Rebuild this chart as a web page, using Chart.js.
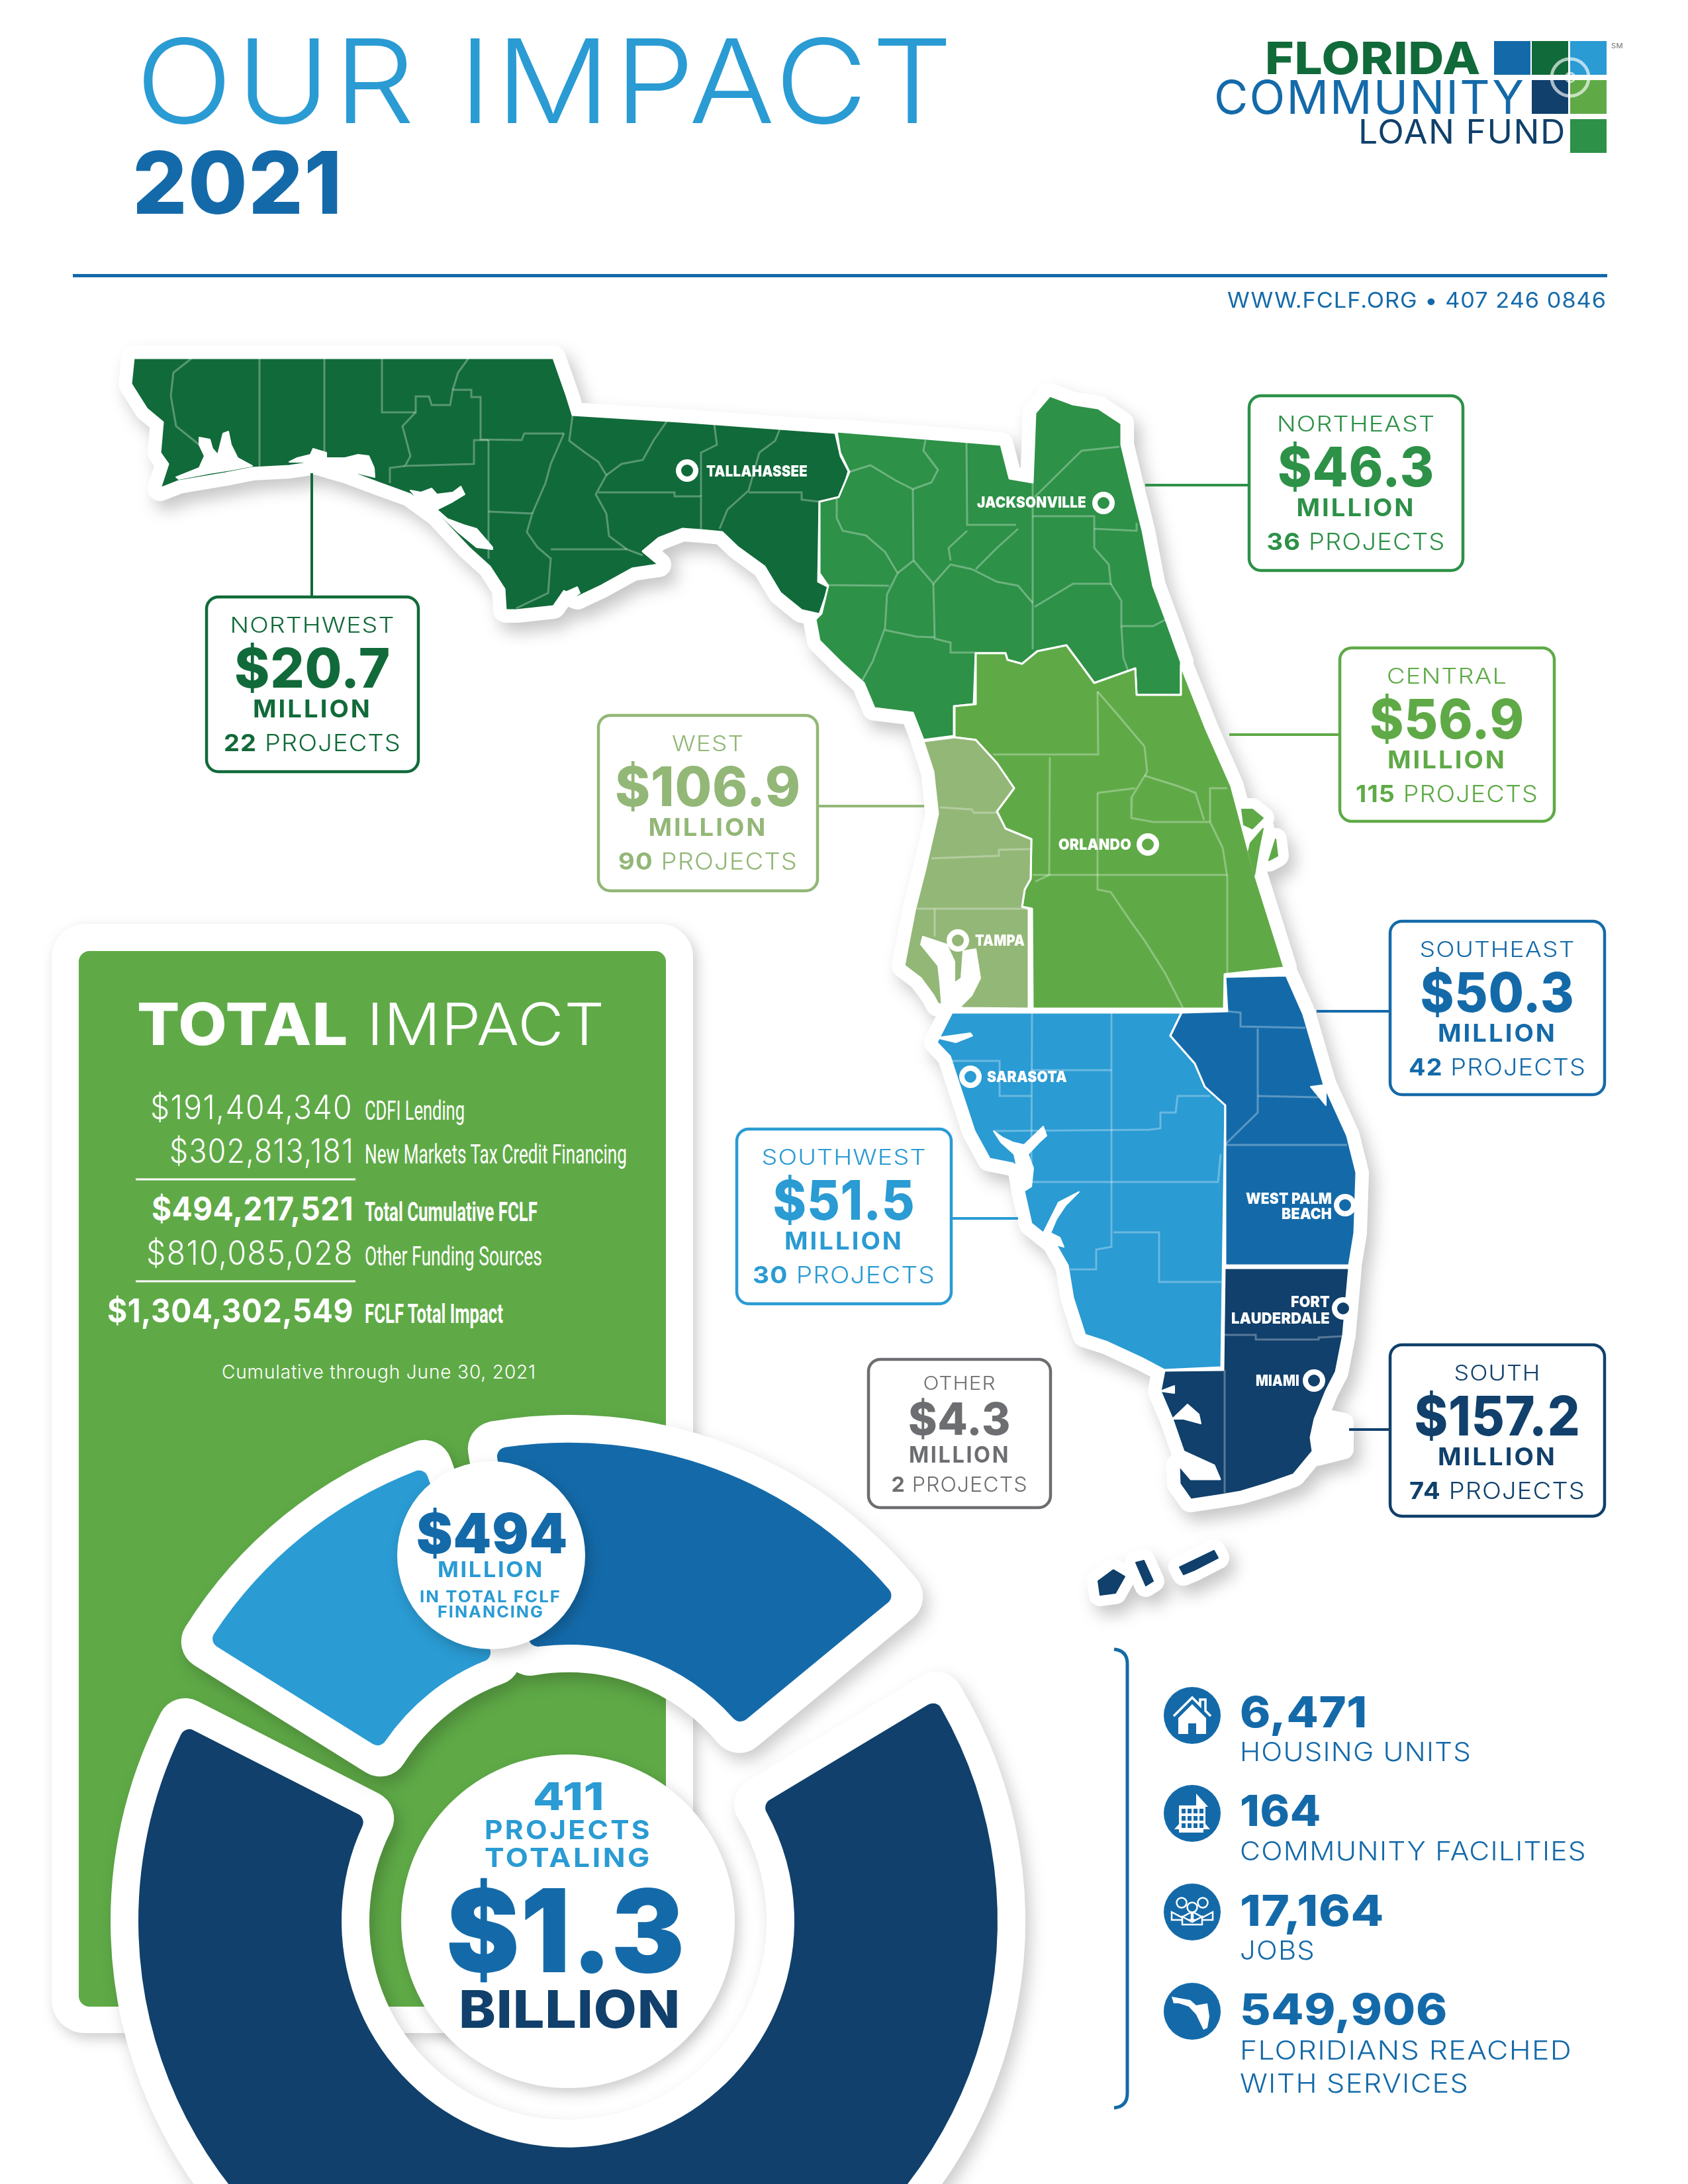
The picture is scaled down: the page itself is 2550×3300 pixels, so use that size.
<!DOCTYPE html>
<html>
<head>
<meta charset="utf-8">
<title>Our Impact 2021</title>
<script src="https://cdn.jsdelivr.net/npm/chart.js@4"></script>
<style>
html, body { margin: 0; padding: 0; background: #fff; }
#page { position: relative; width: 2550px; height: 3300px; overflow: hidden; background: #fff; }
#page canvas, #page svg { position: absolute; left: 0; top: 0; }
#mapChart { filter: drop-shadow(10px 14px 12px rgba(0,0,0,.22)); }
.stickerRing { filter: drop-shadow(8px 12px 12px rgba(0,0,0,.2)); }
.soft { filter: drop-shadow(6px 8px 10px rgba(0,0,0,.2)); }
</style>
</head>
<body>
<div id="page">
  <svg id="backLayer" width="2550" height="3300"></svg>
  <canvas id="mapChart" width="2550" height="3300"></canvas>
  <canvas id="otherSticker" class="stickerRing" width="1800" height="1800"></canvas>
  <canvas id="otherRing" width="1800" height="1800"></canvas>
  <canvas id="fclfSticker" class="stickerRing" width="1800" height="1800"></canvas>
  <canvas id="fclfRing" width="1800" height="1800"></canvas>
  <svg id="frontLayer" width="2550" height="3300"></svg>
</div>
<script>
// regional table
const regionNames = ['NORTHWEST', 'NORTHEAST', 'CENTRAL', 'WEST', 'SOUTHWEST', 'SOUTHEAST', 'SOUTH', 'OTHER'];
const regionMillions = [20.7, 46.3, 56.9, 106.9, 51.5, 50.3, 157.2, 4.3];
const regionProjects = [22, 36, 115, 90, 30, 42, 74, 2];

// total impact table, in dollars
const fundingNames = ['CDFI Lending', 'New Markets Tax Credit Financing', 'Total Cumulative FCLF', 'Other Funding Sources', 'FCLF Total Impact'];
const fundingAmounts = [191404340, 302813181, 494217521, 810085028, 1304302549];

const statValues = ['6,471', '164', '17,164', '549,906'];

// map outlines (x, y on the map scales)
const outlineNorthwest = [[202,541],[836,541],[856,598],[865,627],[1027,637],[1262,654],[1270,689],[1282,712],[1270,753],[1238,758],[1236,879],[1252,887],[1238,928],[1211,922],[1179,896],[1155,856],[1115,827],[1091,804],[1059,801],[1031,799],[995,813],[971,833],[995,853],[955,859],[908,885],[872,902],[852,893],[836,916],[780,922],[764,922],[762,890],[740,856],[708,827],[660,776],[620,747],[573,730],[525,712],[477,698],[437,704],[381,707],[341,715],[270,727],[242,738],[254,701],[242,684],[246,638],[222,618],[198,580]];
const outlineNortheast = [[1264,652],[1512,672],[1525,723],[1560,729],[1564,624],[1586,598],[1621,611],[1659,617],[1694,640],[1694,672],[1707,726],[1726,802],[1742,885],[1761,936],[1784,1000],[1784,1050],[1717,1050],[1715,1010],[1653,1032],[1634,1006],[1611,975],[1567,984],[1544,1003],[1522,997],[1519,987],[1474,987],[1471,1064],[1442,1067],[1441,1112],[1395,1118],[1379,1077],[1321,1070],[1305,1032],[1270,1000],[1238,968],[1232,936],[1241,927],[1251,885],[1238,866],[1238,758],[1267,751],[1283,713],[1269,684]];
const outlineCentral = [[1474,987],[1519,987],[1522,997],[1544,1003],[1567,984],[1611,975],[1634,1006],[1653,1032],[1715,1010],[1717,1050],[1784,1050],[1784,1006],[1822,1102],[1860,1188],[1895,1319],[1940,1462],[1850,1472],[1849,1524],[1560,1524],[1559,1373],[1544,1370],[1548,1344],[1557,1328],[1558,1268],[1519,1252],[1506,1226],[1532,1191],[1506,1153],[1474,1118],[1442,1114],[1442,1067],[1474,1064]];
const outlineWest = [[1395,1120],[1442,1114],[1474,1118],[1506,1153],[1532,1191],[1506,1226],[1519,1252],[1558,1268],[1557,1328],[1548,1344],[1544,1370],[1554,1373],[1554,1524],[1455,1523],[1417,1517],[1410,1504],[1391,1478],[1366,1459],[1382,1376],[1398,1313],[1417,1230],[1410,1166]];
const outlineSouthwest = [[1438,1530],[1785,1530],[1768,1565],[1805,1607],[1820,1642],[1851,1670],[1845,2066],[1759,2070],[1725,2052],[1673,2028],[1639,2017],[1621,1961],[1613,1912],[1593,1877],[1558,1849],[1547,1800],[1541,1765],[1530,1758],[1495,1751],[1472,1709],[1449,1639],[1435,1596],[1415,1575]];
const outlineSoutheast = [[1851,1476],[1943,1474],[1969,1533],[2000,1639],[2035,1716],[2049,1772],[2046,1863],[2038,1912],[1850,1912],[1851,1670],[1820,1642],[1805,1607],[1768,1565],[1785,1530],[1854,1528]];
const outlineSouth = [[1850,1916],[2038,1916],[2029,2017],[2018,2073],[2003,2102],[1986,2144],[1980,2172],[1983,2193],[1954,2228],[1914,2242],[1874,2254],[1845,2259],[1799,2266],[1782,2242],[1781,2214],[1799,2235],[1843,2235],[1834,2214],[1788,2193],[1771,2144],[1753,2102],[1759,2071],[1848,2070]];
const keysSouth = [
  [[1659,2389],[1682,2372],[1699,2382],[1685,2407],[1662,2410]],
  [[1716,2361],[1728,2358],[1742,2389],[1731,2396]],
  [[1782,2368],[1834,2343],[1840,2354],[1805,2372],[1788,2379]]
];
const islandsCentral = [
  [[1876,1223],[1892,1223],[1908,1236],[1892,1252],[1879,1246]],
  [[1889,1274],[1908,1252],[1902,1281],[1895,1322],[1886,1287]],
  [[1927,1268],[1930,1293],[1917,1300]]
];
const bays = [
  [[301,661],[317,664],[321,678],[329,687],[337,655],[345,652],[349,672],[359,692],[381,704],[349,710],[317,715],[270,724],[266,721],[301,707],[309,689],[301,672]],
  [[437,698],[449,692],[469,687],[473,678],[493,684],[493,692],[521,692],[541,687],[557,689],[565,707],[566,721],[541,715],[517,717],[501,707],[477,698]],
  [[620,741],[636,744],[652,738],[660,747],[684,744],[696,735],[702,747],[684,758],[660,770],[676,784],[700,793],[720,799],[744,827],[744,830],[720,827],[692,804],[668,781],[648,767],[632,755]],
  [[852,896],[872,887],[876,896],[856,910],[840,916]],
  [[1394,1415],[1430,1427],[1442,1453],[1442,1485],[1452,1478],[1455,1437],[1474,1434],[1481,1478],[1468,1504],[1449,1523],[1423,1523],[1420,1485],[1417,1459],[1391,1427]],
  [[1415,1568],[1466,1561],[1469,1565],[1444,1575]],
  [[1501,1709],[1515,1719],[1530,1726],[1547,1730],[1576,1702],[1581,1716],[1570,1726],[1553,1744],[1561,1765],[1558,1793],[1547,1800],[1538,1772],[1532,1744],[1512,1726]],
  [[1576,1863],[1590,1835],[1599,1817],[1630,1801],[1610,1821],[1596,1842],[1587,1863],[1601,1870],[1607,1884],[1581,1877]],
  [[1980,1642],[2003,1639],[2003,1670]],
  [[1753,2102],[1774,2094],[1774,2105]],
  [[1771,2144],[1794,2122],[1811,2137],[1814,2151],[1788,2144]]
];
const biscayneBlob = [[1983,2140],[2030,2150],[2030,2190],[1990,2200]];
const countyLines = [
  [[290,541],[262,563],[258,598],[266,644],[301,672]],
  [[392,541],[392,707]],
  [[490,541],[490,692]],
  [[577,541],[577,623],[628,623],[628,599],[648,599],[652,612],[680,612],[684,589],[712,589],[712,600],[726,600],[726,664],[788,665],[792,655],[852,655]],
  [[708,541],[692,563],[684,589]],
  [[628,623],[608,644],[620,689],[612,704],[716,701],[716,665],[738,665]],
  [[738,665],[738,844]],
  [[612,704],[589,707],[589,730]],
  [[738,773],[804,776],[796,804],[812,827],[832,844],[828,896],[780,919]],
  [[832,830],[947,830],[971,839]],
  [[852,655],[832,701],[824,730],[804,776]],
  [[865,627],[860,666],[884,684],[904,698],[916,718],[900,747],[916,776],[920,810],[947,830]],
  [[916,718],[939,701],[971,695],[987,666],[1007,637]],
  [[904,744],[1019,744],[1019,750],[1059,750],[1059,799]],
  [[1059,750],[1059,684],[1083,672],[1079,641]],
  [[1179,646],[1171,666],[1147,684],[1131,741],[1099,770],[1087,799]],
  [[1131,744],[1211,744],[1211,755],[1238,758]],
  [[1264,751],[1264,783],[1273,802],[1308,809],[1337,834],[1356,866],[1340,898],[1337,949],[1318,1000],[1302,1029]],
  [[1283,713],[1315,703],[1353,726],[1379,739],[1407,729],[1417,710],[1395,681],[1398,665]],
  [[1379,739],[1380,847],[1356,866]],
  [[1460,665],[1461,793],[1535,793]],
  [[1380,847],[1410,882],[1436,853],[1468,860],[1506,879],[1538,885],[1560,911]],
  [[1245,884],[1343,885]],
  [[1461,802],[1433,828],[1436,847]],
  [[1538,799],[1506,828],[1474,860]],
  [[1410,882],[1412,965],[1436,971],[1436,986],[1474,986]],
  [[1337,952],[1385,962],[1412,963]],
  [[1560,729],[1560,981]],
  [[1563,751],[1634,681],[1691,675]],
  [[1560,780],[1653,780],[1653,828],[1675,853],[1678,882],[1621,882],[1563,917]],
  [[1653,799],[1717,802],[1717,790]],
  [[1678,882],[1694,908],[1694,946],[1742,946],[1761,936]],
  [[1694,946],[1697,994],[1704,1013]],
  [[1658,1045],[1659,1140],[1500,1140]],
  [[1586,1144],[1585,1322],[1564,1332]],
  [[1658,1045],[1691,1083],[1729,1128],[1733,1166],[1710,1204],[1709,1236],[1742,1242],[1828,1242],[1847,1281],[1854,1325],[1854,1472]],
  [[1729,1172],[1780,1188],[1806,1198],[1819,1239]],
  [[1828,1242],[1828,1191],[1854,1191]],
  [[1658,1198],[1715,1191]],
  [[1658,1198],[1658,1344],[1678,1348],[1710,1395],[1729,1421],[1761,1472],[1787,1523]],
  [[1560,1322],[1854,1322]],
  [[1420,1220],[1468,1223],[1471,1228],[1506,1228]],
  [[1407,1297],[1509,1293],[1509,1284],[1556,1283]],
  [[1385,1373],[1554,1373]],
  [[1412,1373],[1412,1415]],
  [[1559,1530],[1558,1782]],
  [[1679,1530],[1679,1884],[1656,1888],[1656,1918],[1616,1918]],
  [[1435,1603],[1510,1603],[1510,1656],[1558,1656]],
  [[1558,1617],[1679,1617]],
  [[1501,1709],[1736,1707],[1753,1705],[1753,1681],[1776,1681],[1779,1656],[1828,1656]],
  [[1555,1786],[1840,1786],[1844,1744]],
  [[1682,1862],[1751,1862],[1751,1937],[1845,1937]],
  [[1854,1528],[1874,1530],[1874,1551],[1972,1553]],
  [[1900,1554],[1900,1681],[1850,1730]],
  [[1900,1656],[1992,1658]],
  [[1850,1730],[2035,1730]],
  [[1850,2017],[1897,2017],[1897,2024],[1992,2024],[1992,2021],[2029,2019]],
  [[1850,2070],[1850,2256]]
];
const cityNames = ['Tallahassee', 'Jacksonville', 'Orlando', 'Tampa', 'Sarasota', 'West Palm Beach', 'Fort Lauderdale', 'Miami'];
const cityPoints = [[1038,711],[1667,760],[1734,1276],[1447,1421],[1466,1627],[2032,1821],[2029,1977],[1985,2086]];

const NAVY = '#10406b', BLUE = '#146aa9', SKY = '#2a9bd3', FOREST = '#116a39', GREEN = '#2d9147', LEAF = '#5faa47', SAGE = '#93b777', GRAY = '#6d6e71';
const regionColors = [FOREST, GREEN, LEAF, SAGE, SKY, BLUE, NAVY, GRAY];
const cityColors = [FOREST, GREEN, LEAF, SAGE, SKY, BLUE, NAVY, NAVY];
const FONT = 'Inter, "Noto Sans", sans-serif';
const NARROW = '"Liberation Sans Narrow", Roboto, sans-serif';

Chart.defaults.animation = false;
Chart.defaults.devicePixelRatio = 1;
Chart.defaults.responsive = false;
Chart.defaults.plugins.legend.display = false;
Chart.defaults.plugins.tooltip.enabled = false;

function toXY(points, close) {
    const list = points.map(function (p) { return { x: p[0], y: p[1] }; });
    if (close) list.push(list[0]);
    return list;
}

function shape(points, fillColor, lineColor, lineWidth) {
    return {
        data: toXY(points, true), showLine: true, fill: 'shape', backgroundColor: fillColor,
        borderColor: lineColor, borderWidth: lineWidth, pointRadius: 0, tension: 0,
        borderJoinStyle: 'round', borderCapStyle: 'round', clip: false
    };
}

const landShapes = [
    [outlineNorthwest, FOREST], [outlineNortheast, GREEN], [outlineCentral, LEAF], [outlineWest, SAGE],
    [outlineSouthwest, SKY], [outlineSoutheast, BLUE], [outlineSouth, NAVY]
];
const mapDatasets = [];
// white sticker under the land first
landShapes.forEach(function (s) { mapDatasets.push(shape(s[0], '#fff', '#fff', 38)); });
keysSouth.concat(islandsCentral).forEach(function (k) { mapDatasets.push(shape(k, '#fff', '#fff', 34)); });
mapDatasets.push(shape(biscayneBlob, '#fff', '#fff', 30));
landShapes.forEach(function (s) { mapDatasets.push(shape(s[0], s[1], '#fff', 3)); });
keysSouth.forEach(function (k) { mapDatasets.push(shape(k, NAVY, NAVY, 2)); });
islandsCentral.forEach(function (k) { mapDatasets.push(shape(k, LEAF, LEAF, 2)); });
countyLines.forEach(function (l) {
    mapDatasets.push({
        data: toXY(l, false), showLine: true, fill: false, borderColor: 'rgba(255,255,255,.3)',
        borderWidth: 3, pointRadius: 0, tension: 0, clip: false
    });
});
bays.forEach(function (b) { mapDatasets.push(shape(b, '#fff', '#fff', 2)); });
mapDatasets.push({
    label: 'Cities', data: toXY(cityPoints, false), showLine: false, pointStyle: 'circle', pointRadius: 13,
    pointBackgroundColor: cityColors, pointBorderColor: '#fff', pointBorderWidth: 8, clip: false
});
// later entries go on top
mapDatasets.forEach(function (d, i) { d.order = mapDatasets.length - i; });

new Chart(document.getElementById('mapChart'), {
    type: 'scatter',
    data: { datasets: mapDatasets },
    options: {
        layout: { padding: 0, autoPadding: false },
        scales: {
            x: { type: 'linear', min: 0, max: 2550, display: false },
            y: { type: 'linear', min: 0, max: 3300, reverse: true, display: false }
        }
    }
});

// the slices do not fill a circle, so move the canvas until the ring's hub sits where it should
function ringChart(id, values, rotation, sweep, radius, cutout, colors, borderColors, borderWidth, corner, hubX, hubY) {
    const canvas = document.getElementById(id);
    const chart = new Chart(canvas, {
        type: 'doughnut',
        data: {
            labels: values.map(String),
            datasets: [{
                data: values, backgroundColor: colors, borderColor: borderColors, borderWidth: borderWidth,
                borderJoinStyle: 'round', borderRadius: corner, radius: radius, cutout: cutout,
                rotation: rotation, circumference: sweep, clip: false
            }]
        },
        options: { layout: { padding: 0 } }
    });
    const arc = chart.getDatasetMeta(0).data[0];
    canvas.style.left = (hubX - arc.x) + 'px';
    canvas.style.top = (hubY - arc.y) + 'px';
}

const otherFunding = [fundingAmounts[3]];
const fclfFunding = [fundingAmounts[0], 50000000, fundingAmounts[1]]; // middle slice is only the blank gap
ringChart('otherSticker', otherFunding, 59, 238, 649, '52.7%', ['#fff'], ['#fff'], 84, 0, 858, 2903);
ringChart('otherRing', otherFunding, 59, 238, 649, '52.7%', [NAVY], [NAVY], 0, 14, 858, 2903);
ringChart('fclfSticker', fclfFunding, -58, 108.5, 640, '52.3%', ['#fff', 'transparent', '#fff'], ['#fff', 'transparent', '#fff'], 84, 0, 858, 2820);
ringChart('fclfRing', fclfFunding, -58, 108.5, 640, '52.3%', [SKY, 'transparent', BLUE], [SKY, 'transparent', BLUE], 0, 14, 858, 2820);

// svg helpers
const SVGNS = 'http://www.w3.org/2000/svg';
function el(parent, name, attrs) {
    const node = document.createElementNS(SVGNS, name);
    Object.keys(attrs).forEach(function (k) { node.setAttribute(k, attrs[k]); });
    parent.appendChild(node);
    return node;
}
// parts is a string or a list of [string, weight]; x and width come from the picture
function label(parent, parts, x, baseline, width, size, weight, color, family) {
    const t = el(parent, 'text', { x: x, y: baseline, fill: color, 'font-size': size, 'font-weight': weight, 'font-family': family || FONT });
    if (typeof parts === 'string') {
        t.textContent = parts;
    } else {
        parts.forEach(function (p) {
            const span = el(t, 'tspan', { 'font-weight': p[1] });
            span.textContent = p[0];
        });
    }
    // the reference face is wider than Inter: some tracking, then stretch to the measured width
    if (!family) {
        let tracking = '0.01em';
        if (weight <= 400) tracking = '0.03em';
        if (weight >= 700 && size >= 24 && size <= 40) tracking = '0.08em';
        t.setAttribute('letter-spacing', tracking);
    }
    t.setAttribute('textLength', width);
    t.setAttribute('lengthAdjust', 'spacingAndGlyphs');
    return t;
}

const back = document.getElementById('backLayer');
const front = document.getElementById('frontLayer');

// total impact panel
el(back, 'rect', { x: 78, y: 1396, width: 969, height: 1676, rx: 50, fill: '#fff', class: 'soft' });
el(back, 'rect', { x: 119, y: 1437, width: 887, height: 1595, rx: 16, fill: LEAF });
label(back, [['TOTAL', 800], [' IMPACT', 300]], 207, 1579, 707, 88, 800, '#fff');
const amountRows = [[227, 533, 1691, 551, 702, 300], [256, 535, 1757, 551, 947, 300], [229, 534, 1844, 551, 812, 700], [221, 534, 1911, 551, 819, 300], [162, 534, 1998, 551, 760, 700]];
amountRows.forEach(function (r, i) {
    label(back, '$' + fundingAmounts[i].toLocaleString('en-US'), r[0], r[2], r[1] - r[0], 50, r[5], '#fff');
    label(back, fundingNames[i], r[3], r[2] + 1, r[4] - r[3], 40, r[5] === 700 ? 700 : 400, '#fff', NARROW);
});
el(back, 'line', { x1: 205, x2: 537, y1: 1782, y2: 1782, stroke: '#fff', 'stroke-width': 3 });
el(back, 'line', { x1: 205, x2: 537, y1: 1936, y2: 1936, stroke: '#fff', 'stroke-width': 3 });
label(back, 'Cumulative through June 30, 2021', 335, 2083, 475, 29, 300, '#fff');

// header
label(front, 'OUR IMPACT', 205, 186, 1240, 176, 300, SKY);
label(front, '2021', 200, 323, 318, 130, 800, BLUE);
el(front, 'rect', { x: 110, y: 414, width: 2318, height: 5, fill: BLUE });
label(front, 'WWW.FCLF.ORG \u2022 407 246 0846', 1854, 465, 573, 32, 400, BLUE);

// logo
label(front, 'FLORIDA', 1911, 112, 326, 68, 800, FOREST);
label(front, 'COMMUNITY', 1834, 172, 470, 70, 400, BLUE);
label(front, 'LOAN FUND', 2052, 217, 314, 50, 400, NAVY);
[[2257, 62, BLUE], [2314, 62, FOREST], [2372, 62, SKY], [2314, 121, NAVY], [2372, 121, LEAF], [2372, 180, GREEN]].forEach(function (s) {
    el(front, 'rect', { x: s[0], y: s[1], width: 55, height: 51, fill: s[2] });
});
el(front, 'circle', { cx: 2372, cy: 117, r: 28, fill: 'none', stroke: 'rgba(255,255,255,.65)', 'stroke-width': 5 });
el(front, 'circle', { cx: 2372, cy: 117, r: 7, fill: 'none', stroke: 'rgba(255,255,255,.65)', 'stroke-width': 3 });
label(front, 'SM', 2434, 73, 18, 11, 400, GRAY);

// region boxes: left, top, width, height, title, value and projects widths
const regionBoxes = [
    [312, 902, 320, 264, 249, 236, 268],
    [1887, 598, 323, 264, 239, 237, 270],
    [2024, 979, 324, 262, 182, 234, 276],
    [904, 1081, 331, 265, 109, 281, 271],
    [1113, 1706, 324, 264, 249, 215, 276],
    [2100, 1392, 324, 262, 235, 233, 268],
    [2100, 2032, 324, 259, 131, 251, 266],
    [1312, 2054, 275, 224, 110, 155, 206]
];
regionBoxes.forEach(function (b, i) {
    const small = i === 7;
    const cx = b[0] + b[2] / 2;
    const c = regionColors[i];
    el(front, 'rect', { x: b[0], y: b[1], width: b[2], height: b[3], rx: 18, fill: '#fff', stroke: c, 'stroke-width': 4.5 });
    label(front, regionNames[i], cx - b[4] / 2, b[1] + (small ? 46 : 54), b[4], small ? 28 : 32, 300, c);
    label(front, '$' + regionMillions[i].toFixed(1), cx - b[5] / 2, b[1] + (small ? 114 : 137), b[5], small ? 68 : 82, 800, c);
    const mw = small ? 153 : 180;
    label(front, 'MILLION', cx - mw / 2, b[1] + (small ? 156 : 182), mw, small ? 34 : 37, 700, c);
    label(front, [[String(regionProjects[i]), 700], [' PROJECTS', 300]], cx - b[6] / 2, b[1] + (small ? 200 : 233), b[6], small ? 31 : 36, 300, c);
});

// leaders from boxes to the map
const leaders = [
    [471, 715, 471, 902, 0], [1730, 733, 1887, 733, 1], [1857, 1110, 2024, 1110, 2], [1235, 1218, 1396, 1218, 3],
    [1437, 1841, 1538, 1841, 4], [1989, 1528, 2100, 1528, 5], [2038, 2160, 2100, 2160, 6]
];
leaders.forEach(function (l) {
    el(front, 'line', { x1: l[0], y1: l[1], x2: l[2], y2: l[3], stroke: regionColors[l[4]], 'stroke-width': 4 });
});

// city names on the map
[
    ['TALLAHASSEE', 1067, 720, 153], ['JACKSONVILLE', 1476, 767, 165], ['ORLANDO', 1599, 1284, 110], ['TAMPA', 1473, 1429, 75],
    ['SARASOTA', 1491, 1635, 121], ['WEST PALM', 1882, 1819, 130], ['BEACH', 1936, 1842, 76], ['FORT', 1950, 1975, 59],
    ['LAUDERDALE', 1860, 2000, 149], ['MIAMI', 1897, 2094, 66]
].forEach(function (c) { label(front, c[0], c[1], c[2], c[3], 23, 900, '#fff'); });

// circles at the ring hubs
el(front, 'circle', { cx: 742, cy: 2350, r: 142, fill: '#fff', class: 'soft' });
el(front, 'circle', { cx: 858, cy: 2903, r: 252, fill: '#fff', class: 'soft' });
label(front, '$494', 629, 2347, 229, 84, 900, BLUE);
label(front, 'MILLION', 661, 2383, 161, 32, 700, SKY);
label(front, 'IN TOTAL FCLF', 634, 2421, 214, 24, 700, SKY);
label(front, 'FINANCING', 661, 2444, 161, 24, 700, SKY);
label(front, '411', 805, 2735, 108, 58, 800, SKY);
label(front, 'PROJECTS', 732, 2779, 253, 40, 700, SKY);
label(front, 'TOTALING', 732, 2821, 253, 40, 700, SKY);
label(front, '$1.3', 674, 2980, 362, 174, 900, BLUE);
label(front, 'BILLION', 693, 3064, 335, 78, 800, NAVY);

// stats column
el(front, 'path', { d: 'M1683 2492 Q1703 2494 1703 2514 L1703 3163 Q1703 3183 1683 3185', fill: 'none', stroke: BLUE, 'stroke-width': 5 });
const statRows = [
    [2592, 2610, 193, [['HOUSING UNITS', 2661, 350]]],
    [2740, 2759, 123, [['COMMUNITY FACILITIES', 2811, 524]]],
    [2889, 2910, 218, [['JOBS', 2961, 114]]],
    [3039, 3059, 314, [['FLORIDIANS REACHED', 3112, 502], ['WITH SERVICES', 3162, 346]]]
];
statRows.forEach(function (r, i) {
    el(front, 'circle', { cx: 1801, cy: r[0], r: 43, fill: BLUE });
    label(front, statValues[i], 1873, r[1], r[2], 65, 800, BLUE);
    r[3].forEach(function (line) { label(front, line[0], 1873, line[1], line[2], 40, 300, BLUE); });
});

// icons
const house = el(front, 'g', { transform: 'translate(1801 2592)', fill: '#fff' });
el(house, 'path', { d: 'M-21 4 L-21 28 L-6 28 L-6 12 L6 12 L6 28 L21 28 L21 4 L0 -17 Z' });
el(house, 'path', { d: 'M-28 1 L0 -27 L12 -15 L12 -24 L20 -24 L20 -7 L28 1', fill: 'none', stroke: '#fff', 'stroke-width': 3.5 });
const building = el(front, 'g', { transform: 'translate(1801 2740)', fill: '#fff' });
el(building, 'path', { d: 'M-20 -12 L6 -12 L6 -30 L24 -10 L20 -10 L20 16 L27 24 L17 24 L17 29 L-20 29 L-20 24 L-27 24 L-20 16 Z' });
for (let row = 0; row < 3; row++) {
    for (let col = 0; col < 4; col++) {
        el(building, 'rect', { x: -16 + col * 9, y: -7 + row * 11, width: 6, height: 7, fill: BLUE });
    }
}
const people = el(front, 'g', { transform: 'translate(1801 2889)', fill: 'none', stroke: '#fff', 'stroke-width': 2.5 });
[[-16, -14], [16, -14], [0, -7]].forEach(function (h) {
    el(people, 'circle', { cx: h[0], cy: h[1], r: 7.5, fill: BLUE });
    el(people, 'path', { d: 'M' + (h[0] - 15) + ' ' + (h[1] + 26) + ' L' + (h[0] - 15) + ' ' + (h[1] + 14) + ' L' + h[0] + ' ' + (h[1] + 22) + ' L' + (h[0] + 15) + ' ' + (h[1] + 14) + ' L' + (h[0] + 15) + ' ' + (h[1] + 26) + ' Z', fill: BLUE });
});
el(front, 'path', { d: 'M1770 3017 L1798 3022 L1807 3030 L1824 3027 L1827 3047 L1824 3064 L1818 3067 L1807 3044 L1796 3032 L1781 3027 L1773 3027 Z', fill: '#fff' });
</script>
</body>
</html>
